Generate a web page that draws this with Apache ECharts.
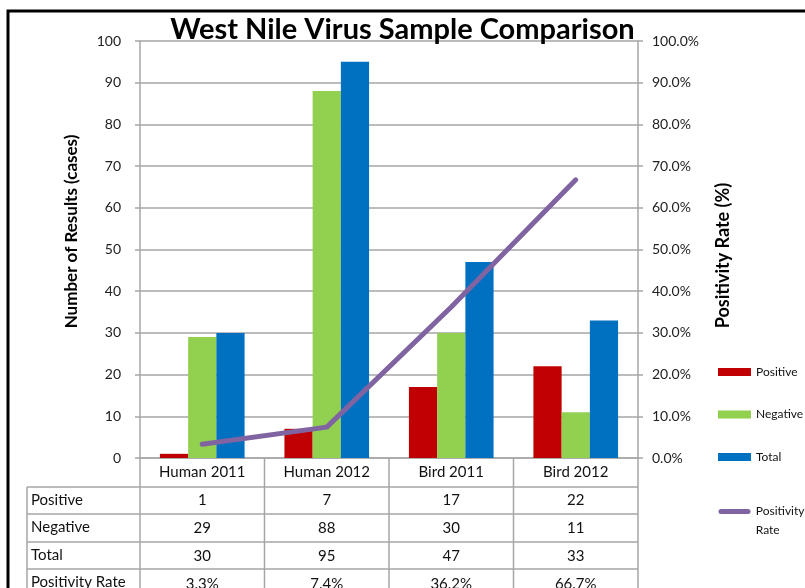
<!DOCTYPE html>
<html>
<head>
<meta charset="utf-8">
<script src="https://cdn.jsdelivr.net/npm/echarts@6/dist/echarts.min.js"></script>
<style>
  html, body { margin: 0; padding: 0; background: #fff; }
  #chart { width: 805px; height: 588px; }
</style>
</head>
<body>
<div id="chart"></div>
<script>
// data
const categories = ['Human 2011', 'Human 2012', 'Bird 2011', 'Bird 2012'];
const positive = [1, 7, 17, 22];
const negative = [29, 88, 30, 11];
const total = [30, 95, 47, 33];
const positivityRate = [3.3, 7.4, 36.2, 66.7];
const rowNames = ['Positive', 'Negative', 'Total', 'Positivity Rate'];

const FONT = 'Lato, "Open Sans", sans-serif';
const GRID_COLOR = '#a6a6a6';

const chart = echarts.init(document.getElementById('chart'));

// table lines / row headers (layout only, text comes from rowNames)
const tableLeft = 27;
const plotLeft = 140;
const plotRight = 638;
const plotBottom = 458;
const rowLines = [487, 514, 542, 569];
const graphics = [
  {
    type: 'rect',
    shape: { x: 8, y: 11, width: 900, height: 700 },
    style: { fill: 'none', stroke: '#000', lineWidth: 3 },
    silent: true
  },
  {
    type: 'line',
    shape: { x1: tableLeft, y1: rowLines[0], x2: tableLeft, y2: 600 },
    style: { stroke: GRID_COLOR, lineWidth: 1.5 }
  }
];
rowLines.forEach(y => {
  graphics.push({
    type: 'line',
    shape: { x1: tableLeft, y1: y, x2: plotRight, y2: y },
    style: { stroke: GRID_COLOR, lineWidth: 1.5 }
  });
});
// column borders of the table, one per category boundary
for (let i = 0; i <= categories.length; i++) {
  const x = plotLeft + (plotRight - plotLeft) * i / categories.length;
  graphics.push({
    type: 'line',
    shape: { x1: x, y1: plotBottom, x2: x, y2: 600 },
    style: { stroke: GRID_COLOR, lineWidth: 1.5 }
  });
}
rowNames.forEach((name, i) => {
  graphics.push({
    type: 'text',
    x: tableLeft + 4,
    y: rowLines[i] + 13.5,
    style: {
      text: name,
      font: '15px ' + FONT,
      fill: '#111',
      verticalAlign: 'middle'
    }
  });
});

const legendText = { fontFamily: FONT, fontSize: 12, color: '#111' };

const option = {
  backgroundColor: '#fff',
  animation: false,
  color: ['#c00000', '#92d050', '#0070c0', '#8064a2'],
  title: {
    text: 'West Nile Virus Sample Comparison',
    left: 'center',
    top: 10,
    textStyle: {
      fontFamily: FONT,
      fontSize: 29,
      fontWeight: 'bold',
      color: '#000'
    }
  },
  legend: [
    {
      orient: 'vertical',
      left: 718,
      top: 366,
      padding: 0,
      itemWidth: 33,
      itemHeight: 8,
      itemGap: 30.5,
      textStyle: legendText,
      data: [
        { name: 'Positive', icon: 'rect' },
        { name: 'Negative', icon: 'rect' },
        { name: 'Total', icon: 'rect' }
      ]
    },
    {
      orient: 'vertical',
      left: 718,
      top: 483,
      padding: 0,
      itemWidth: 33,
      itemHeight: 8,
      textStyle: Object.assign({}, legendText, { lineHeight: 19 }),
      // leading empty line puts "Positivity" level with the icon
      formatter: name => '\n' + name.replace(' ', '\n'),
      data: [
        {
          name: 'Positivity Rate',
          icon: 'path://M0,0 M0,8 M3,1.5 H30 A2.5,2.5 0 0 1 30,6.5 H3 A2.5,2.5 0 0 1 3,1.5 Z'
        }
      ]
    }
  ],
  grid: {
    left: plotLeft,
    right: 805 - plotRight,
    top: 41,
    bottom: 588 - plotBottom,
    containLabel: false,
    outerBoundsMode: 'none'
  },
  xAxis: {
    type: 'category',
    data: categories,
    axisLine: { lineStyle: { color: GRID_COLOR, width: 1.5 } },
    axisTick: { show: false },
    axisLabel: {
      margin: 0,
      interval: 0,
      fontFamily: FONT,
      fontSize: 15,
      color: '#111',
      lineHeight: 28,
      formatter: (value, idx) => [
        value,
        positive[idx],
        negative[idx],
        total[idx],
        positivityRate[idx].toFixed(1) + '%'
      ].join('\n')
    }
  },
  yAxis: [
    {
      type: 'value',
      min: 0,
      max: 100,
      interval: 10,
      name: 'Number of Results (cases)',
      nameLocation: 'middle',
      nameGap: 60,
      nameTextStyle: {
        fontFamily: FONT,
        fontSize: 17,
        fontWeight: 'bold',
        color: '#000',
        padding: [0, 0, 0, 36]
      },
      axisLine: { show: true, lineStyle: { color: GRID_COLOR, width: 1.5 } },
      axisTick: { show: true, length: 5, lineStyle: { color: GRID_COLOR, width: 1.5 } },
      axisLabel: { margin: 19, fontFamily: FONT, fontSize: 14, color: '#222' },
      splitLine: { lineStyle: { color: GRID_COLOR, width: 1.5 } }
    },
    {
      type: 'value',
      min: 0,
      max: 100,
      interval: 10,
      name: 'Positivity Rate (%)',
      nameLocation: 'middle',
      nameGap: 76,
      nameRotate: 90,
      nameTextStyle: {
        fontFamily: FONT,
        fontSize: 18,
        fontWeight: 'bold',
        color: '#000',
        padding: [0, 12, 0, 0]
      },
      axisLine: { show: true, lineStyle: { color: GRID_COLOR, width: 1.5 } },
      axisTick: { show: true, length: 5, lineStyle: { color: GRID_COLOR, width: 1.5 } },
      axisLabel: {
        margin: 14,
        fontFamily: FONT,
        fontSize: 14,
        color: '#222',
        formatter: v => v.toFixed(1) + '%'
      },
      splitLine: { show: false }
    }
  ],
  series: [
    { name: 'Positive', type: 'bar', data: positive, barGap: 0, barCategoryGap: '32%' },
    { name: 'Negative', type: 'bar', data: negative, barGap: 0, barCategoryGap: '32%' },
    { name: 'Total', type: 'bar', data: total, barGap: 0, barCategoryGap: '32%' },
    {
      name: 'Positivity Rate',
      type: 'line',
      yAxisIndex: 1,
      data: positivityRate,
      symbol: 'none',
      z: 5,
      lineStyle: { width: 5, cap: 'round', join: 'round' }
    }
  ],
  graphic: graphics
};

chart.setOption(option);
</script>
</body>
</html>
